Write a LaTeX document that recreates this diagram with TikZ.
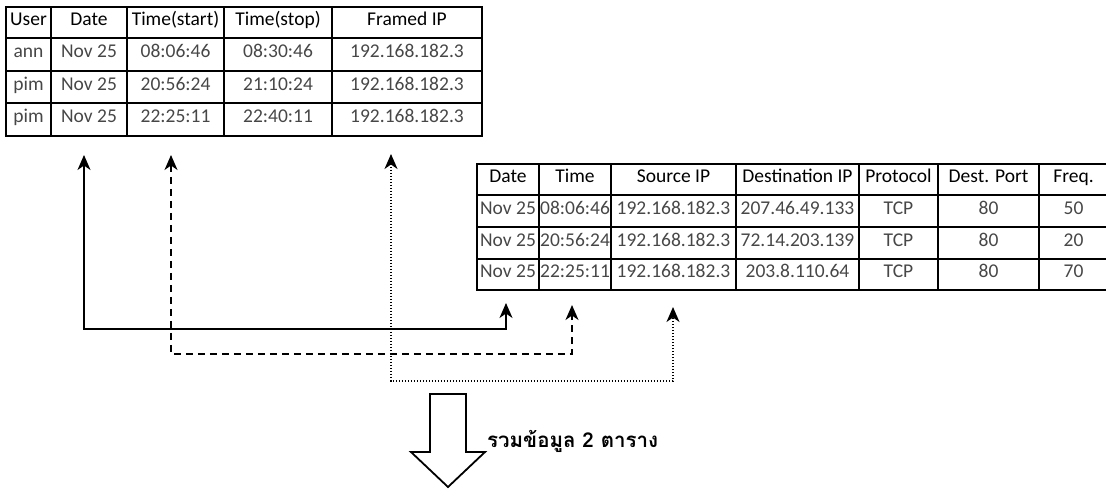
\documentclass[tikz,border=0pt]{standalone}
\usepackage{fontspec}
\usetikzlibrary{arrows.meta}
\newfontfamily\thaifont[Script=Thai]{Loma}
\newfontfamily\tabfont{Carlito}

% column / row boundaries of the two tables (1 unit = 1pt, y grows downwards)
\def\Ax{{6,51,127,224,332,482}}
\def\Ay{{7,38,71,103,136}}
\def\Bx{{477,539,611,736,859,938,1039,1108}}
\def\By{{164,195,227,259,290}}

% one table row: #1 name prefix, #2 x list, #3 y list, #4 row index, #5 cell style, #6 texts
\newcommand\cellrow[6]{%
  \foreach \txt [count=\c from 0] in {#6} {
    \pgfmathsetmacro\xa{#2[\c]}
    \pgfmathsetmacro\xb{#2[\c+1]}
    \pgfmathsetmacro\ya{#3[#4]}
    \pgfmathsetmacro\yb{#3[#4+1]}
    \node[#5, minimum width={(\xb-\xa)*1pt}, minimum height={(\yb-\ya)*1pt}]
      (#1-#4-\c) at ({(\xa+\xb)/2},{(\ya+\yb)/2}) {\txt};
  }}

\tikzset{
  linktip/.tip={Stealth[length=15pt,width=13pt,inset=4.5pt]},
  cellbox/.style={draw, line width=1.6pt, inner sep=0pt, outer sep=0pt,
    text height=10pt, text depth=4pt,
    font=\tabfont\fontsize{19.5}{22}\selectfont},
  headcell/.style={cellbox, text=black},
  bodycell/.style={cellbox, text=black!72},
  solidlink/.style={line width=1.6pt, linktip-linktip},
  dashlink/.style={line width=1.6pt, dash pattern=on 7pt off 5pt, linktip-linktip},
  dotlink/.style={line width=1.5pt, dash pattern=on 1.5pt off 1.5pt, linktip-linktip},
  blockarrow/.style={draw, line width=1.8pt, line join=miter, fill=white},
}

\begin{document}
\begin{tikzpicture}[x=1pt,y=-1pt]
\useasboundingbox (0,0) rectangle (1106,488);

% accounting table
\cellrow{A}{\Ax}{\Ay}{0}{headcell}{User,Date,Time(start),Time(stop),Framed IP}
\cellrow{A}{\Ax}{\Ay}{1}{bodycell}{ann,Nov 25,08:06:46,08:30:46,192.168.182.3}
\cellrow{A}{\Ax}{\Ay}{2}{bodycell}{pim,Nov 25,20:56:24,21:10:24,192.168.182.3}
\cellrow{A}{\Ax}{\Ay}{3}{bodycell}{pim,Nov 25,22:25:11,22:40:11,192.168.182.3}

% traffic table
\cellrow{B}{\Bx}{\By}{0}{headcell}{Date,Time,Source IP,Destination IP,Protocol,Dest. Port,Freq.}
\cellrow{B}{\Bx}{\By}{1}{bodycell}{Nov 25,08:06:46,192.168.182.3,207.46.49.133,TCP,80,50}
\cellrow{B}{\Bx}{\By}{2}{bodycell}{Nov 25,20:56:24,192.168.182.3,72.14.203.139,TCP,80,20}
\cellrow{B}{\Bx}{\By}{3}{bodycell}{Nov 25,22:25:11,192.168.182.3,203.8.110.64,TCP,80,70}

% ends of the matching links
\coordinate (dateA) at (84,155);
\coordinate (timeA) at (171,155);
\coordinate (ipA)   at (391,154);
\coordinate (dateB) at (506,303);
\coordinate (timeB) at (572,305);
\coordinate (ipB)   at (673,307);

\draw[solidlink] (dateA) -- ++(0,174) -| (dateB);
\draw[dashlink]  (timeA) -- ++(0,199) -| (timeB);
\draw[dotlink]   (ipA)   -- ++(0,227) -| (ipB);

% merge arrow
\draw[blockarrow] (430,394) -- (466,394) -- (466,452) -- (485,452)
  -- (448,487) -- (411,452) -- (430,452) -- cycle;
\node[anchor=west, inner sep=0pt, font=\thaifont\bfseries\fontsize{20.5}{24}\selectfont]
  (mergelabel) at (487,441) {รวมข้อมูล 2 ตาราง};
\end{tikzpicture}
\end{document}
